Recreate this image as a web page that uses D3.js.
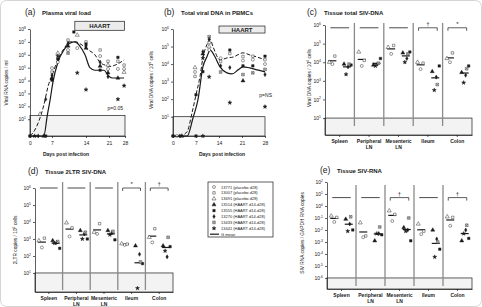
<!DOCTYPE html>
<html>
<head>
<meta charset="utf-8">
<script src="https://cdn.jsdelivr.net/npm/d3@7"></script>
<style>
body { margin: 0; background: #fff; }
svg { display: block; font-family: "Liberation Sans", Arial, sans-serif; }
</style>
</head>
<body>
<div id="chart"></div>
<script>
/* DATA */
// symbols: 0 open circle, 1 open square, 2 open triangle, 3 filled triangle,
// 4 filled square, 5 filled diamond, 6 crossed square, 7 filled star
const legendLabels = ["13771 (placebo d28)", "13007 (placebo d28)", "13691 (placebo d28)",
  "13514 (HAART d14-d28)", "13555 (HAART d14-d28)", "13270 (HAART d14-d28)",
  "13433 (HAART d14-d28)", "13441 (HAART d14-d28)"]
const dayTicks = [0, 7, 14, 21, 28]

// (a) plasma viral load, [day, log10 copies/ml, animal]
const plasmaPts = [
  [0,-0.3,0],[0,-0.3,4],[1.5,-0.3,7],[2.6,-0.3,5],[4.4,-0.3,3],[5,-0.3,4],
  [3.2,1.4,2],[5,2.55,5],
  [7,4.97,0],[7,4.66,1],[7,4.42,5],[7,4.19,3],[7,4.03,4],
  [8.2,6.13,2],[8.2,5.9,7],[8.2,5.67,4],[8.2,5.43,0],
  [10.3,7.14,1],[10.3,6.9,5],[10.3,6.68,3],[10.3,6.37,0],[10.3,6.13,6],
  [11.5,7.77,4],[12.2,7.53,2],[12.2,6.52,0],[12.2,4.6,7],
  [14,7.0,1],[14,6.83,4],[14,6.68,5],[14,6.52,3],[14,3.3,7],
  [18.3,6.37,1],[18.3,5.9,0],[18.3,5.43,5],[18.3,5.12,3],[18.3,4.81,4],
  [20.7,5.5,1],[20.7,5.2,2],[20.7,4.9,0],[20.7,4.6,3],[20.7,4.3,5],
  [24.9,5.8,4],[24.9,5.5,1],[24.9,4.9,0],[24.9,4.2,3],[24.9,2.55,7],
  [27.6,5.2,1],[27.6,4.9,0],[27.6,4.65,2],[27.6,3.6,7]
]
const plasmaPlacebo = [[0,-0.3],[1.5,0.15],[2.9,0.9],[4.4,2.1],[5.8,3.6],[7,4.4],[8.2,5.6],
  [9.5,6.5],[10.7,7.0],[11.9,7.0],[13.2,6.75],[14.6,6.4],[16.7,6.0],[18.3,5.4],
  [19.8,5.2],[21.4,5.1],[24.9,5.3],[27.6,5.6]]
const plasmaHaart = [[0,-0.3],[4.4,-0.3],[5.5,1.3],[6.4,2.5],[7.2,3.9],[8.2,5.4],[9.5,6.4],
  [10.7,6.9],[11.7,7.0],[12.7,6.7],[13.8,6.0],[15.2,5.0],[16.7,4.8],[18.3,4.8],
  [19.5,4.8],[20.7,4.4],[22.3,4.2],[24.9,4.2],[27.6,4.2]]

// (b) total viral DNA in PBMCs, [day, log10 copies/10^6 cells, animal]
const pbmcPts = [
  [0,-0.1,0],[0,-0.1,4],[1.2,-0.1,1],[2.1,-0.1,5],[2.7,-0.1,3],[7,-0.1,4],[9.1,-0.1,7],
  [7,2.25,4],[6.7,3.8,2],[6.7,3.55,0],[6.7,3.3,1],
  [9.1,4.71,5],[9.1,4.58,3],[9.1,4.34,7],[9.1,3.57,4],
  [11,5.56,6],[11,5.41,5],[11,5.22,1],[11,4.99,2],[11,4.8,0],[11,3.27,7],
  [14.5,4.33,0],[14.5,4.15,1],[14.5,3.9,5],[14.5,3.55,6],
  [17.3,4.8,4],[17.3,4.6,1],[17.3,3.8,5],[17.3,1.8,7],
  [21.3,4.43,1],[21.3,4.2,0],[21.3,3.9,4],[21.3,3.4,6],[21.3,3.05,3],
  [24.3,4.45,1],[24.3,4.25,0],[24.3,3.9,4],[24.3,3.5,6],
  [28,4.45,4],[28,4.25,1],[28,4.0,0],[28,3.7,6],[28,3.4,5],[28,1.57,7]
]
const pbmcPlacebo = [[0,-0.1],[2.1,-0.1],[4.3,0.15],[5.8,1.23],[7,2.25],[8.2,3.27],[9.1,4.35],
  [10.3,5.1],[11.3,5.4],[12.2,4.98],[14.3,4.24],[16.4,4.35],[18.3,4.4],[21.3,4.64],
  [23.4,4.52],[25.6,4.4],[28,4.24]]
const pbmcHaart = [[0,-0.1],[4.3,-0.1],[6.1,0.94],[7.6,1.97],[9.1,3.84],[10.3,4.4],[11.3,4.8],
  [12.8,4.4],[14.3,3.84],[16.4,3.5],[18,3.44],[19.8,3.67],[21.3,3.84],[23.4,3.78],
  [25.6,3.67],[28,3.56]]

// tissues: placebo [o, open sq, open tri], HAART [tri, sq, diamond, crossed sq, star], log10
const tissues = ["Spleen", "Peripheral\nLN", "Mesenteric\nLN", "Ileum", "Colon"]
const totalDnaPlacebo = [[3.9,4.33,4.0],[3.8,4.1,4.55],[4.45,4.9,4.8],[3.63,3.95,4.0],[4.0,4.5,4.2]]
const totalDnaHaart = [[3.9,3.85,3.75,3.9,3.35],[3.85,4.2,3.9,3.95,3.8],[4.5,4.55,4.2,4.45,4.0],
  [3.5,3.8,3.2,2.8,2.5],[3.45,3.8,3.3,3.65,2.9]]
const totalDnaSig = ["", "", "", "\u2020", "*"]

const ltrPlacebo = [[2.5,3.05,2.9],[3.15,3.65,3.95],[3.3,3.9,3.4],[2.65,2.7,2.72],[2.8,3.6,3.1]]
const ltrHaart = [[2.9,2.45,2.8,2.85,2.75],[3.5,3.0,3.3,3.4,3.0],[3.5,2.95,3.35,3.45,3.25],
  [2.6,1.55,2.1,1.65,0.1],[2.6,2.55,1.95,3.1,2.3]]
const ltrSig = ["", "", "", "*", "\u2020"]

const rnaPlacebo = [[-1.33,-0.95,-0.83],[-2.6,-2.5,-1.4],[-1.25,-0.7,-0.4],[-2.35,-2.1,-1.5],[-1.65,-0.95,-0.9]]
const rnaHaart = [[-1.1,-2.0,-1.5,-0.9,-2.1],[-2.9,-2.4,-2.3,-1.75,-2.3],[-1.8,-2.9,-2.0,-1.0,-2.1],
  [-2.0,-3.6,-2.75,-3.0,-4.25],[-2.9,-2.7,-2.0,-1.6,-2.3]]
const rnaSig = ["", "", "\u2020", "", "\u2020"]

/* SETUP */
const width = 482, height = 307
const ink = "#1a1a1a"
const svg = d3.select("#chart").append("svg").attr("width", width).attr("height", height)
svg.append("rect").attr("x", 0.5).attr("y", 0.5).attr("width", width - 1).attr("height", height - 1)
  .attr("rx", 6).attr("fill", "#fff").attr("stroke", "#d4d4d4")

const symTypes = [d3.symbolCircle, d3.symbolSquare, d3.symbolTriangle, d3.symbolTriangle,
  d3.symbolSquare, d3.symbolDiamond, d3.symbolSquare, d3.symbolStar]
const symFilled = [0, 0, 0, 1, 1, 1, 0, 1]
const symSizes = [7, 6, 7, 7, 6, 5, 7, 5]

function drawSym(g, s, x, y) {
  g.append("path")
    .attr("d", d3.symbol().type(symTypes[s]).size(symSizes[s])())
    .attr("transform", `translate(${x},${y})`)
    .attr("fill", symFilled[s] ? ink : "#fff")
    .attr("stroke", ink).attr("stroke-width", 0.45)
  if (s === 6) {
    g.append("path")
      .attr("d", d3.symbol().type(d3.symbolX || d3.symbolCross).size(4)())
      .attr("transform", `translate(${x},${y})`)
      .attr("fill", "none").attr("stroke", ink).attr("stroke-width", 0.45)
  }
}

function powLabel(sel, fs) {
  sel.each(function(d) {
    const t = d3.select(this).text("10")
    t.append("tspan").attr("dy", -fs * 0.45).attr("font-size", fs * 0.68)
      .text(d < 0 ? "-" + (-d) : d)
  })
}

function yAxis(y, x0, exps) {
  const ax = svg.append("g")
    .attr("transform", `translate(${x0},0)`)
    .call(d3.axisLeft(y).tickValues(exps).tickSize(2).tickSizeOuter(0).tickPadding(2).tickFormat(""))
  ax.attr("font-size", 5).attr("font-family", null)
  ax.selectAll("line, path").attr("stroke", ink).attr("stroke-width", 0.7)
  ax.selectAll(".tick text").attr("fill", ink).call(powLabel, 5)
  return ax
}

function titles(x, y, letter, name) {
  svg.append("text").attr("x", x).attr("y", y).attr("font-size", 8.5).attr("fill", ink).text(letter)
  svg.append("text").attr("x", x + 17).attr("y", y - 0.5).attr("font-size", 6)
    .attr("font-weight", "bold").attr("fill", ink).text(name)
}

function yLabel(x, y, txt, sup, rest) {
  const t = svg.append("text")
    .attr("transform", `translate(${x},${y}) rotate(-90)`)
    .attr("text-anchor", "middle").attr("font-size", 4.8).attr("fill", ink).text(txt)
  if (sup) {
    t.append("tspan").attr("dy", -2).attr("font-size", 3.4).text(sup)
    t.append("tspan").attr("dy", 2).text(rest)
  }
}

/* TIME COURSE PANELS */
function timePanel(o) {
  const g = svg.append("g")
  const [x0, x1] = [o.x(0), o.x(28)]
  // detection limit box
  g.append("rect").attr("x", x0).attr("y", o.y(o.lod))
    .attr("width", x1 - x0).attr("height", o.y(o.y.domain()[0]) - o.y(o.lod))
    .attr("fill", "#f3f3f3").attr("stroke", ink).attr("stroke-width", 0.7)
  // HAART box
  g.append("rect").attr("x", o.x(o.haart[0])).attr("y", o.y(o.haartY[0]))
    .attr("width", o.x(o.haart[1]) - o.x(o.haart[0]))
    .attr("height", o.y(o.haartY[1]) - o.y(o.haartY[0]))
    .attr("fill", "#ececec").attr("stroke", ink).attr("stroke-width", 0.7)
  g.append("text").attr("x", (o.x(o.haart[0]) + o.x(o.haart[1])) / 2)
    .attr("y", (o.y(o.haartY[0]) + o.y(o.haartY[1])) / 2 + 2.2)
    .attr("text-anchor", "middle").attr("font-size", 6).attr("font-weight", "bold")
    .attr("fill", ink).text("HAART")

  const lineGen = d3.line().x(d => o.x(d[0])).y(d => o.y(d[1])).curve(d3.curveMonotoneX)
  g.append("path").datum(o.placebo).attr("d", lineGen)
    .attr("fill", "none").attr("stroke", ink).attr("stroke-width", 1).attr("stroke-dasharray", "4,2")
  g.append("path").datum(o.haartLine).attr("d", lineGen)
    .attr("fill", "none").attr("stroke", ink).attr("stroke-width", 1.2)
  o.pts.forEach(p => drawSym(g, p[2], o.x(p[0]), o.y(p[1])))

  yAxis(o.y, x0, o.exps)
  const xa = svg.append("g").attr("transform", `translate(0,${o.y(o.y.domain()[0])})`)
    .call(d3.axisBottom(o.x).tickValues(dayTicks).tickSize(2).tickSizeOuter(0).tickPadding(3))
  xa.attr("font-size", 5).attr("font-family", null)
  xa.selectAll("line, path").attr("stroke", ink).attr("stroke-width", 0.7)
  xa.selectAll("text").attr("fill", ink)

  svg.append("text").attr("x", o.pX).attr("y", o.pY).attr("text-anchor", "end")
    .attr("font-size", 5).attr("fill", ink).text(o.p)
  svg.append("text").attr("x", o.xlabX).attr("y", 156).attr("text-anchor", "middle")
    .attr("font-size", 5).attr("font-weight", "bold").attr("fill", ink).text("Days post infection")
}

// (a)
titles(25, 15, "(a)", "Plasma viral load")
timePanel({
  x: d3.scaleLinear().domain(dayTicks).range([30, 52, 86, 109, 125]),
  y: d3.scaleLinear().domain([-0.3, 8]).range([136, 29]),
  exps: [1, 2, 3, 4, 5, 6, 7, 8], lod: 1.3,
  haart: [11.7, 27.8], haartY: [8.6, 7.9],
  placebo: plasmaPlacebo, haartLine: plasmaHaart, pts: plasmaPts,
  p: "p=0.05", pX: 123, pY: 110, xlabX: 66
})
yLabel(8, 83, "Viral RNA copies / ml")

// (b)
titles(164, 15, "(b)", "Total viral DNA in PBMCs")
timePanel({
  x: d3.scaleLinear().domain([0, 28]).range([173, 265]),
  y: d3.scaleLinear().domain([-0.1, 6]).range([136, 29]),
  exps: [1, 2, 3, 4, 5, 6], lod: 1,
  haart: [14, 28], haartY: [6.17, 5.77],
  placebo: pbmcPlacebo, haartLine: pbmcHaart, pts: pbmcPts,
  p: "p=NS", pX: 272, pY: 97, xlabX: 222
})
yLabel(153, 80, "Viral DNA copies / 10", "6", " cells")

/* TISSUE PANELS */
const placeboOff = [0, 2.5, -3]
const haartOff = [-3, 4, 1, 2, -1]

function tissuePanel(o) {
  const g = svg.append("g")
  const x = d3.scaleBand().domain(tissues).range(o.xr)
  const bw = x.bandwidth()
  const yb = o.y.domain()[0]
  g.append("rect").attr("x", o.xr[0]).attr("y", o.y(o.lod))
    .attr("width", o.xr[1] - o.xr[0]).attr("height", o.y(yb) - o.y(o.lod))
    .attr("fill", "#f3f3f3").attr("stroke", ink).attr("stroke-width", 0.7)
  // separators
  tissues.slice(1).forEach(t => {
    g.append("line").attr("x1", x(t)).attr("x2", x(t)).attr("y1", o.sep[0]).attr("y2", o.sep[1])
      .attr("stroke", "#8a8a8a").attr("stroke-width", 1.3)
  })
  tissues.forEach((t, i) => {
    const cp = x(t) + bw * 0.25, ch = x(t) + bw * 0.75
    // significance line / bracket
    const ly = o.y(o.lineLevel)
    if (o.sig[i]) {
      g.append("path").attr("d", `M${cp - 2},${ly + 3}V${ly}H${ch + 2}V${ly + 3}`)
        .attr("fill", "none").attr("stroke", ink).attr("stroke-width", 0.7)
      g.append("text").attr("x", (cp + ch) / 2).attr("y", ly - 2).attr("text-anchor", "middle")
        .attr("font-size", 6).attr("fill", ink).text(o.sig[i])
    } else {
      g.append("line").attr("x1", cp - 2).attr("x2", ch + 2).attr("y1", ly).attr("y2", ly)
        .attr("stroke", ink).attr("stroke-width", 0.8)
    }
    // geometric means
    const mp = d3.mean(o.placebo[i]), mh = d3.mean(o.haart[i])
    ;[[cp, mp], [ch, mh]].forEach(([cx, m]) => {
      g.append("line").attr("x1", cx - 4).attr("x2", cx + 4).attr("y1", o.y(m)).attr("y2", o.y(m))
        .attr("stroke", ink).attr("stroke-width", 1.2)
    })
    o.placebo[i].forEach((v, k) => drawSym(g, k, cp + placeboOff[k], o.y(v)))
    o.haart[i].forEach((v, k) => drawSym(g, k + 3, ch + haartOff[k], o.y(v)))
  })
  yAxis(o.y, o.xr[0], o.exps)
  const xa = svg.append("g").attr("transform", `translate(0,${o.y(yb)})`)
    .call(d3.axisBottom(x).tickSize(2).tickSizeOuter(0).tickPadding(3).tickFormat(""))
  xa.selectAll("line, path").attr("stroke", ink).attr("stroke-width", 0.7)
  tissues.forEach(t => {
    const lines = t.split("\n")
    const tx = svg.append("text").attr("x", x(t) + bw / 2).attr("y", o.y(yb) + 8)
      .attr("text-anchor", "middle").attr("font-size", 5).attr("font-weight", "bold").attr("fill", ink)
    lines.forEach((l, j) => tx.append("tspan").attr("x", x(t) + bw / 2).attr("dy", j ? 6 : 0).text(l))
  })
}

// (c)
titles(307, 15, "(c)", "Tissue total SIV-DNA")
tissuePanel({
  xr: [325, 472], y: d3.scaleLinear().domain([0.09, 6]).range([135, 25]),
  exps: [1, 2, 3, 4, 5, 6], lod: 1, lineLevel: 5.85, sep: [23, 126],
  placebo: totalDnaPlacebo, haart: totalDnaHaart, sig: totalDnaSig
})
yLabel(311, 78, "Viral DNA copies / 10", "6", " cells")

// (d)
titles(28, 174, "(d)", "Tissue 2LTR SIV-DNA")
tissuePanel({
  xr: [35, 173], y: d3.scaleLinear().domain([-0.12, 6]).range([292, 188]),
  exps: [1, 2, 3, 4, 5, 6], lod: 1, lineLevel: 6, sep: [182, 290],
  placebo: ltrPlacebo, haart: ltrHaart, sig: ltrSig
})
yLabel(17, 240, "2LTR copies / 10", "6", " cells")

// (e)
titles(320, 173, "(e)", "Tissue SIV-RNA")
tissuePanel({
  xr: [327, 472], y: d3.scaleLinear().domain([-6.92, 2]).range([289, 182]),
  exps: [-6, -5, -4, -3, -2, -1, 0, 1, 2], lod: -6, lineLevel: 0.7, sep: [185, 286],
  placebo: rnaPlacebo, haart: rnaHaart, sig: rnaSig
})
yLabel(304, 233, "SIV RNA copies / GAPDH RNA copies")

/* LEGEND */
const lg = svg.append("g")
lg.append("rect").attr("x", 208).attr("y", 182).attr("width", 65).attr("height", 55)
  .attr("fill", "#fff").attr("stroke", ink).attr("stroke-width", 0.7)
legendLabels.forEach((l, i) => {
  const yy = 187 + i * 5.9
  drawSym(lg, i, 214, yy)
  lg.append("text").attr("x", 221).attr("y", yy + 1.5).attr("font-size", 4).attr("fill", ink).text(l)
})
const gy = 187 + 8 * 5.9
lg.append("line").attr("x1", 210).attr("x2", 219).attr("y1", gy).attr("y2", gy)
  .attr("stroke", ink).attr("stroke-width", 1.2)
lg.append("text").attr("x", 221).attr("y", gy + 1.5).attr("font-size", 4).attr("fill", ink).text("G mean")
</script>
</body>
</html>
